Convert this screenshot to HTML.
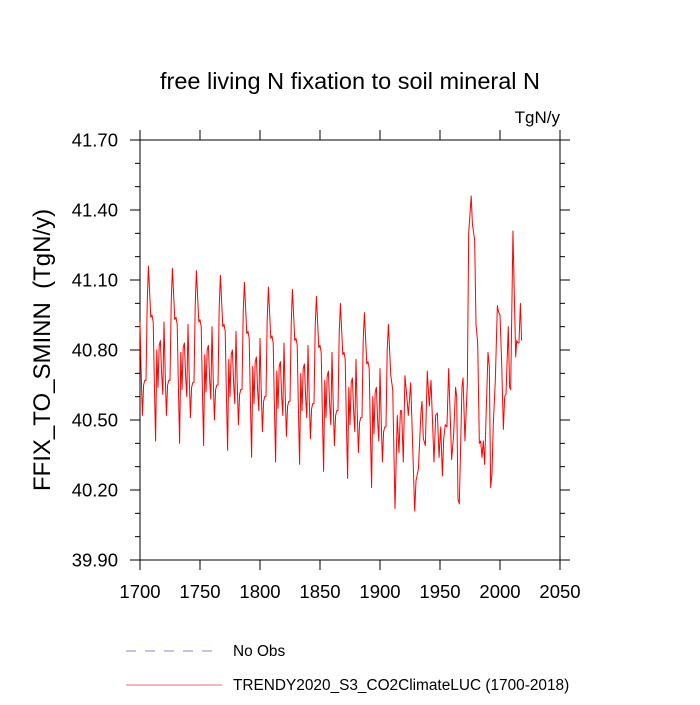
<!DOCTYPE html>
<html><head><meta charset="utf-8"><style>
html,body{margin:0;padding:0;background:#fff;}
svg text{font-family:"Liberation Sans",Arial,sans-serif;fill:#000;}
</style></head><body>
<svg id="chart" width="700" height="700" viewBox="0 0 700 700" xmlns="http://www.w3.org/2000/svg">
<rect x="0" y="0" width="700" height="700" fill="#fff"/>
<text x="350" y="89" font-size="23.5" text-anchor="middle">free living N fixation to soil mineral N</text>
<text x="560" y="123" font-size="17" text-anchor="end">TgN/y</text>
<text transform="translate(50,350) rotate(-90)" font-size="24" text-anchor="middle" style="white-space:pre">FFIX_TO_SMINN  (TgN/y)</text>
<g id="axes"></g>
<g id="series"></g>
<g>
<line x1="126" y1="651" x2="220" y2="651" stroke="#8888cc" stroke-width="1" stroke-dasharray="10,9"/>
<text x="233" y="656" font-size="15.4">No Obs</text>
<line x1="126" y1="685" x2="222" y2="685" stroke="#e07070" stroke-width="1"/>
<text x="233" y="690" font-size="15.4">TRENDY2020_S3_CO2ClimateLUC (1700-2018)</text>
</g>
</svg>
<script>
const xTicks=[1700,1750,1800,1850,1900,1950,2000,2050];
const yTicks=[39.9,40.2,40.5,40.8,41.1,41.4,41.7];
const yTickLabels=["39.90","40.20","40.50","40.80","41.10","41.40","41.70"];
const yMinor=[40.0,40.1,40.3,40.4,40.6,40.7,40.9,41.0,41.2,41.3,41.5,41.6];
const earlyStartYear=1700;
const earlyValues=[
40.92,40.70,40.52,40.65,40.67,40.67,41.00,
41.16,41.05,40.94,40.95,40.92,40.65,40.41,40.80,40.64,40.82,40.84,40.70,40.61,40.92,40.70,40.52,40.65,40.67,40.67,41.00,
41.15,41.04,40.93,40.94,40.91,40.64,40.40,40.79,40.63,40.81,40.83,40.69,40.60,40.91,40.69,40.51,40.64,40.66,40.66,40.99,
41.14,41.03,40.92,40.93,40.90,40.63,40.39,40.78,40.62,40.80,40.82,40.68,40.59,40.90,40.68,40.50,40.63,40.65,40.65,40.98,
41.12,41.01,40.90,40.91,40.88,40.61,40.37,40.76,40.60,40.78,40.80,40.66,40.57,40.88,40.66,40.48,40.61,40.63,40.63,40.96,
41.09,40.98,40.87,40.88,40.85,40.58,40.34,40.73,40.57,40.75,40.77,40.63,40.54,40.85,40.63,40.45,40.58,40.60,40.60,40.93,
41.07,40.96,40.85,40.86,40.83,40.56,40.32,40.71,40.55,40.73,40.75,40.61,40.52,40.83,40.61,40.43,40.56,40.58,40.58,40.91,
41.06,40.95,40.84,40.85,40.82,40.55,40.31,40.70,40.54,40.72,40.74,40.60,40.51,40.82,40.60,40.42,40.55,40.57,40.57,40.90,
41.03,40.92,40.81,40.82,40.79,40.52,40.28,40.67,40.51,40.69,40.71,40.57,40.48,40.79,40.57,40.39,40.52,40.54,40.54,40.87,
41.00,40.89,40.78,40.79,40.76,40.49,40.25,40.64,40.48,40.66,40.68,40.54,40.45,40.76,40.54,40.36,40.49,40.51,40.51,40.84,
40.96,40.85,40.74,40.75,40.72,40.45,40.21,40.60,40.44,40.62,40.64,40.50,40.41,40.72,40.50,40.32,40.45,40.47,40.47,40.80];
const lateYears=[1907,1909,1910.6,1912.5,1914.4,1915.8,1917,1918,1919.4,1920.8,1922.2,1923.6,1925.6,1927.2,1928.9,1930,1932,1934.2,1935,1936.1,1937.8,1939.4,1941.1,1942.5,1945,1946.4,1947.8,1949.2,1950.6,1952,1953.1,1954.4,1955.8,1957.2,1959.7,1961.4,1963,1963.9,1965,1966.1,1968.3,1969.2,1970.8,1972.8,1973.9,1976,1977,1978.9,1980,1981.4,1982.8,1983.9,1985,1986.1,1987.2,1990,1991.1,1992.2,1993.3,1994.4,1996.1,1997.8,1998.9,2000,2001.4,2002.8,2003.9,2005,2006.9,2008,2008.9,2010.8,2011.9,2013.1,2013.9,2015,2015.8,2017,2018];
const lateValues=[40.91,40.69,40.63,40.12,40.52,40.36,40.54,40.54,40.32,40.69,40.61,40.52,40.66,40.39,40.11,40.24,40.29,40.54,40.58,40.42,40.39,40.71,40.56,40.67,40.32,40.52,40.53,40.34,40.47,40.26,40.42,40.48,40.47,40.72,40.33,40.44,40.64,40.60,40.16,40.14,40.64,40.68,40.41,40.66,41.30,41.46,41.34,41.27,40.91,40.83,40.40,40.41,40.34,40.41,40.31,40.79,40.73,40.21,40.27,40.48,40.67,40.99,40.96,40.95,40.74,40.46,40.60,40.61,40.90,40.64,40.63,41.31,41.04,40.77,40.84,40.83,40.83,41.00,40.84];

const X0=140,X1=560,Y0=560,Y1=140,XMIN=1700,XMAX=2050,YMIN=39.9,YMAX=41.7;
function xs(v){return X0+(v-XMIN)/(XMAX-XMIN)*(X1-X0);}
function ys(v){return Y0-(v-YMIN)/(YMAX-YMIN)*(Y0-Y1);}
const NS="http://www.w3.org/2000/svg";
const axes=document.getElementById('axes');
function mk(tag,attrs,parent){const e=document.createElementNS(NS,tag);for(const k in attrs)e.setAttribute(k,attrs[k]);parent.appendChild(e);return e;}
const frame=mk('rect',{x:X0,y:Y1,width:X1-X0,height:Y0-Y1,fill:'none',stroke:'#000','stroke-width':1},axes);


xTicks.forEach(t=>{
  const x=xs(t);
  const a=mk('line',{x1:x,y1:Y0,x2:x,y2:Y0+10,stroke:'#000'},axes);
  
  
  const b=mk('line',{x1:x,y1:Y1,x2:x,y2:Y1-10,stroke:'#000'},axes);
  
  
  const l=mk('text',{x:x,y:598,'font-size':18.5,'text-anchor':'middle'},axes);
  l.textContent=String(t);
  
  
});
yTicks.forEach((t,i)=>{
  const y=ys(t);
  const a=mk('line',{x1:X0-10,y1:y,x2:X0,y2:y,stroke:'#000'},axes);
  
  
  const b=mk('line',{x1:X1,y1:y,x2:X1+10,y2:y,stroke:'#000'},axes);
  
  
  const l=mk('text',{x:118,y:y+6.5,'font-size':18.5,'text-anchor':'end'},axes);
  l.textContent=yTickLabels[i];
  
  
});
yMinor.forEach(t=>{
  const y=ys(t);
  const a=mk('line',{x1:X0-5,y1:y,x2:X0,y2:y,stroke:'#000'},axes);
  
  
  const b=mk('line',{x1:X1,y1:y,x2:X1+5,y2:y,stroke:'#000'},axes);
  
  
});
const pts=[];
earlyValues.forEach((v,i)=>pts.push(xs(earlyStartYear+i).toFixed(2)+','+ys(v).toFixed(2)));
lateValues.forEach((v,i)=>pts.push(xs(lateYears[i]).toFixed(2)+','+ys(v).toFixed(2)));
const line=mk('polyline',{points:pts.join(' '),fill:'none',stroke:'#ff0000','stroke-width':1,'stroke-linejoin':'round'},document.getElementById('series'));


</script>
</body></html>
